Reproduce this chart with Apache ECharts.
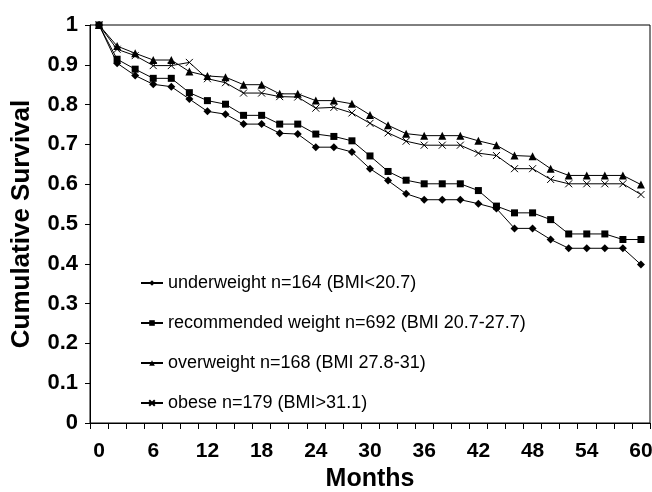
<!DOCTYPE html>
<html>
<head>
<meta charset="utf-8">
<script src="https://cdn.jsdelivr.net/npm/echarts@6/dist/echarts.min.js"></script>
<style>
  html, body { margin: 0; padding: 0; background: #fff; }
  #chart { width: 652px; height: 492px; }
</style>
</head>
<body>
<div id="chart"></div>
<script>
// months, one point every 2 months
var months = ['0', '2', '4', '6', '8', '10', '12', '14', '16', '18', '20', '22', '24', '26', '28', '30',
  '32', '34', '36', '38', '40', '42', '44', '46', '48', '50', '52', '54', '56', '58', '60'];

var underweight = [1.0, 0.904, 0.873, 0.851, 0.845, 0.814, 0.783, 0.776, 0.751, 0.751, 0.728, 0.726, 0.693, 0.693, 0.681, 0.639,
  0.609, 0.576, 0.561, 0.561, 0.561, 0.551, 0.539, 0.489, 0.489, 0.461, 0.439, 0.439, 0.439, 0.439, 0.398];
var recommended = [1.0, 0.914, 0.889, 0.866, 0.866, 0.830, 0.810, 0.801, 0.773, 0.773, 0.751, 0.751, 0.726, 0.720, 0.709, 0.671,
  0.632, 0.610, 0.601, 0.601, 0.601, 0.584, 0.545, 0.528, 0.528, 0.511, 0.475, 0.475, 0.475, 0.461, 0.461];
var overweight = [1.0, 0.947, 0.929, 0.912, 0.912, 0.883, 0.872, 0.869, 0.850, 0.850, 0.827, 0.827, 0.810, 0.810, 0.802, 0.774,
  0.748, 0.727, 0.722, 0.722, 0.722, 0.709, 0.698, 0.672, 0.670, 0.639, 0.622, 0.622, 0.622, 0.622, 0.599];
var obese = [1.0, 0.939, 0.923, 0.898, 0.898, 0.906, 0.865, 0.855, 0.829, 0.829, 0.820, 0.819, 0.791, 0.793, 0.779, 0.753,
  0.729, 0.708, 0.698, 0.698, 0.698, 0.678, 0.672, 0.639, 0.639, 0.612, 0.601, 0.601, 0.601, 0.601, 0.574];

var seriesNames = [
  'underweight n=164 (BMI<20.7)',
  'recommended weight n=692 (BMI 20.7-27.7)',
  'overweight n=168 (BMI 27.8-31)',
  'obese n=179 (BMI>31.1)'
];

var labelFont = "'Liberation Sans', Arial, sans-serif";

function makeSeries(name, data, symbol, size, extra) {
  var s = {
    name: name,
    type: 'line',
    data: data,
    symbol: symbol,
    symbolSize: size,
    showAllSymbol: true,
    animation: false,
    lineStyle: { color: '#000', width: 1 },
    itemStyle: { color: '#000' }
  };
  if (extra) {
    s.itemStyle = extra;
  }
  return s;
}

var chart = echarts.init(document.getElementById('chart'));
chart.setOption({
  backgroundColor: '#fff',
  animation: false,
  grid: {
    left: 90,
    right: 2,
    top: 25,
    bottom: 69,
    outerBoundsMode: 'none',
    show: true,
    borderColor: '#000',
    borderWidth: 1
  },
  legend: {
    orient: 'vertical',
    left: 140,
    top: 273,
    padding: 0,
    itemWidth: 22,
    itemHeight: 7,
    itemGap: 20,
    textStyle: { color: '#000', fontSize: 18, fontFamily: labelFont, lineHeight: 20 },
    data: seriesNames
  },
  xAxis: {
    type: 'category',
    data: months,
    boundaryGap: true,
    name: 'Months',
    nameLocation: 'middle',
    nameGap: 43,
    nameTextStyle: { color: '#000', fontSize: 25, fontWeight: 'bold', fontFamily: labelFont },
    axisLine: { lineStyle: { color: '#000', width: 1 } },
    axisTick: { show: true, interval: 0, length: 6, lineStyle: { color: '#000' } },
    axisLabel: { interval: 2, color: '#000', fontSize: 21, fontWeight: 'bold', fontFamily: labelFont, margin: 18 },
    splitLine: { show: false }
  },
  yAxis: {
    type: 'value',
    min: 0,
    max: 1,
    interval: 0.1,
    name: 'Cumulative Survival',
    nameLocation: 'middle',
    nameGap: 55,
    nameTextStyle: { color: '#000', fontSize: 26, fontWeight: 'bold', fontFamily: labelFont },
    axisLine: { show: true, lineStyle: { color: '#000', width: 1 } },
    axisTick: { show: true, length: 5, lineStyle: { color: '#000' } },
    axisLabel: { color: '#000', fontSize: 22, fontWeight: 'bold', fontFamily: labelFont, margin: 12 },
    splitLine: { show: false }
  },
  series: [
    makeSeries(seriesNames[0], underweight, 'diamond', 8),
    makeSeries(seriesNames[1], recommended, 'rect', 7),
    makeSeries(seriesNames[2], overweight, 'triangle', 8),
    makeSeries(seriesNames[3], obese, 'path://M0,0L10,10M10,0L0,10', 7,
      { color: '#000', borderColor: '#000', borderWidth: 1 })
  ]
});
</script>
</body>
</html>
